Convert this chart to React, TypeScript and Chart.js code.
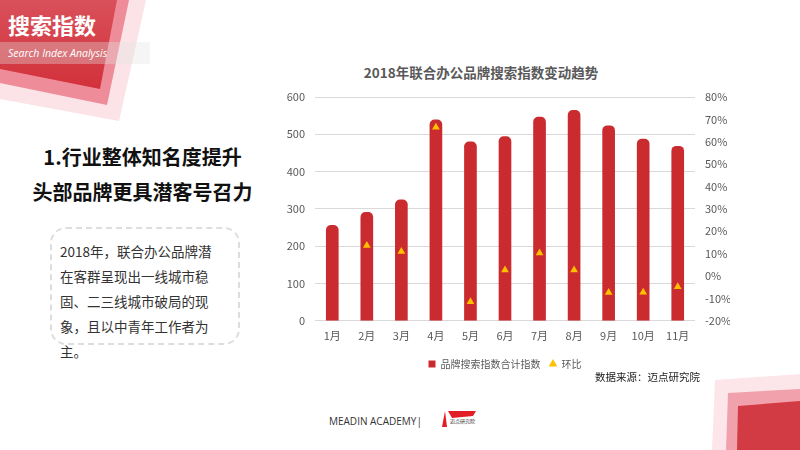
import React, { useEffect, useRef } from "react";
import { Chart, registerables } from "chart.js";

Chart.register(...registerables);

const months = ["1月", "2月", "3月", "4月", "5月", "6月", "7月", "8月", "9月", "10月", "11月"];
const searchIndex = [256, 291, 324, 539, 480, 494, 546, 564, 523, 487, 468];
const momGrowth: (number | null)[] = [null, 13.6, 11, 66.5, -11.5, 2.7, 10.3, 2.7, -7.4, -7.2, -4.8];
const leftTicks = { min: 0, max: 600, step: 100 };
const rightTicks = { min: -20, max: 80, step: 10 };
const chartTitle = "2018年联合办公品牌搜索指数变动趋势";
const seriesNames = ["品牌搜索指数合计指数", "环比"];

const CJK = '"Noto Sans CJK SC", "Noto Sans", sans-serif';

function TrendChart() {
  const ref = useRef<HTMLCanvasElement | null>(null);
  useEffect(() => {
    if (!ref.current) return;
    const chart = new Chart(ref.current, {
      type: "bar",
      data: {
        labels: months,
        datasets: [
          {
            type: "bar",
            label: seriesNames[0],
            data: searchIndex,
            backgroundColor: "#c92b2f",
            borderRadius: { topLeft: 5, topRight: 5 },
            borderSkipped: "start",
            barThickness: 12,
            yAxisID: "y",
            pointStyle: "rect",
            order: 1,
          } as any,
          {
            type: "line",
            label: seriesNames[1],
            data: momGrowth,
            showLine: false,
            yAxisID: "y1",
            pointStyle: "triangle",
            pointRadius: 4.5,
            pointHoverRadius: 4.5,
            backgroundColor: "#ffc000",
            borderColor: "#ffc000",
            borderWidth: 0,
            order: 0,
          } as any,
        ],
      },
      options: {
        animation: false,
        responsive: false,
        maintainAspectRatio: false,
        layout: { padding: { top: 42, left: 0, right: 0, bottom: 0 } },
        plugins: {
          title: { display: false },
          legend: {
            position: "bottom",
            labels: {
              usePointStyle: true,
              boxWidth: 7,
              boxHeight: 7,
              color: "#595959",
              font: { size: 10, family: CJK },
              padding: 9,
              sort: (a: any, b: any) => a.datasetIndex - b.datasetIndex,
            },
          },
          tooltip: { enabled: false },
        },
        scales: {
          x: {
            grid: { display: false, drawTicks: false },
            border: { display: false },
            ticks: { color: "#595959", font: { size: 11, family: CJK }, padding: 8 },
          },
          y: {
            position: "left",
            min: leftTicks.min,
            max: leftTicks.max,
            ticks: {
              stepSize: leftTicks.step,
              color: "#595959",
              font: { size: 11, family: CJK },
              padding: 10,
            },
            grid: { color: "#d9d9d9", drawTicks: false },
            border: { display: false },
            afterFit: (s: any) => {
              s.width = 35;
            },
          },
          y1: {
            position: "right",
            min: rightTicks.min,
            max: rightTicks.max,
            ticks: {
              stepSize: rightTicks.step,
              color: "#595959",
              font: { size: 11, family: CJK },
              padding: 10,
              callback: (v: any) => v + "%",
            },
            grid: { display: false, drawTicks: false },
            border: { display: false },
            afterFit: (s: any) => {
              s.width = 35;
            },
          },
        },
      } as any,
    });
    return () => chart.destroy();
  }, []);
  return <canvas ref={ref} width={450} height={324} style={{ width: 450, height: 324, display: "block" }} />;
}

export default function App() {
  return (
    <div
      style={{
        position: "fixed",
        left: 0,
        top: 0,
        width: 800,
        height: 450,
        overflow: "hidden",
        background: "#ffffff",
        fontFamily: CJK,
      }}
    >
      <svg width={800} height={450} style={{ position: "absolute", left: 0, top: 0 }}>
        <defs>
          <linearGradient id="redg" x1="0" y1="0" x2="0" y2="1">
            <stop offset="0" stopColor="#d9505a" />
            <stop offset="1" stopColor="#d2313a" />
          </linearGradient>
        </defs>
        <polygon points="0,0 146,0 119,121 0,99" fill="#fbe3e7" />
        <polygon points="0,0 129,0 107,105 0,83" fill="#ee8d99" />
        <polygon points="0,0 117,0 100,89 0,69" fill="url(#redg)" />
        <rect x={0} y={42} width={150} height={22} fill="rgba(225,225,225,0.35)" />
        <polygon points="715,380 800,374 800,450 712,450" fill="#fde6ea" />
        <polygon points="728,393 800,389 800,450 726,450" fill="#f0a1ac" />
        <polygon points="738,406 800,401 800,450 737,450" fill="#d23a44" />
        {/* logo */}
        <polygon points="448,411 476,411 473,416 452,418" fill="#e21f26" />
        <polygon points="445,411 447,427 442,427" fill="#e21f26" />
      </svg>
      <div
        style={{
          position: "absolute",
          left: 8,
          top: 9,
          color: "#fff",
          fontWeight: "bold",
          fontSize: 22,
          lineHeight: "30px",
        }}
      >
        搜索指数
      </div>
      <div
        style={{
          position: "absolute",
          left: 8,
          top: 45,
          color: "#fff",
          fontStyle: "italic",
          fontSize: 10.5,
          lineHeight: "16px",
          fontFamily: '"Open Sans", sans-serif',
        }}
      >
        Search Index Analysis
      </div>
      <div
        style={{
          position: "absolute",
          left: 20,
          top: 139,
          width: 245,
          textAlign: "center",
          fontWeight: "bold",
          fontSize: 20,
          lineHeight: "35px",
          color: "#111",
        }}
      >
        1.行业整体知名度提升
        <br />
        头部品牌更具潜客号召力
      </div>
      <div
        style={{
          position: "absolute",
          left: 50,
          top: 227,
          width: 186,
          height: 114,
          border: "2px dashed #dddddd",
          borderRadius: 16,
        }}
      />
      <div
        style={{
          position: "absolute",
          left: 60,
          top: 239,
          fontSize: 13.5,
          lineHeight: "25px",
          color: "#333",
          whiteSpace: "nowrap",
        }}
      >
        2018年，联合办公品牌潜
        <br />
        在客群呈现出一线城市稳
        <br />
        固、二三线城市破局的现
        <br />
        象，且以中青年工作者为
        <br />
        主。
      </div>
      <div
        style={{
          position: "absolute",
          left: 331,
          top: 62,
          width: 300,
          textAlign: "center",
          fontSize: 13.5,
          fontWeight: "bold",
          lineHeight: "20px",
          color: "#595959",
          whiteSpace: "nowrap",
        }}
      >
        {chartTitle}
      </div>
      <div style={{ position: "absolute", left: 280, top: 55 }}>
        <TrendChart />
      </div>
      <div
        style={{
          position: "absolute",
          left: 595,
          top: 369,
          fontSize: 10.5,
          lineHeight: "16px",
          color: "#222",
        }}
      >
        数据来源：迈点研究院
      </div>
      <div
        style={{
          position: "absolute",
          left: 329,
          top: 414,
          fontSize: 10,
          lineHeight: "14px",
          color: "#333",
          fontFamily: '"Open Sans", sans-serif',
        }}
      >
        MEADIN ACADEMY|
      </div>
      <div
        style={{
          position: "absolute",
          left: 450,
          top: 417,
          fontSize: 5,
          lineHeight: "8px",
          color: "#333",
          whiteSpace: "nowrap",
        }}
      >
        迈点研究院
      </div>
    </div>
  );
}
